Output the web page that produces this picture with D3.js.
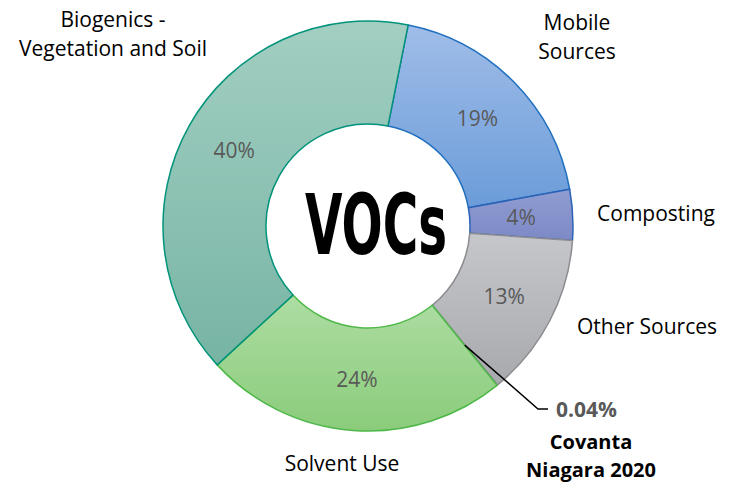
<!DOCTYPE html>
<html>
<head>
<meta charset="utf-8">
<script src="https://cdn.jsdelivr.net/npm/d3@7"></script>
<style>
  body { margin: 0; background: #fff; }
  svg { display: block; font-family: 'Open Sans', Lato, sans-serif; }
</style>
</head>
<body>
<svg id="chart" width="738" height="489"></svg>
<script>
// slice order clockwise, starting at the Biogenics / Mobile border
const categories = ['Mobile Sources', 'Composting', 'Other Sources', 'Covanta Niagara 2020', 'Solvent Use', 'Biogenics - Vegetation and Soil'];
const values = [19, 4, 13, 0.04, 24, 40];
const value_labels = ['19%', '4%', '13%', '0.04%', '24%', '40%'];

const fill_top = ['#a0bde8', '#909dd2', '#c6c7cb', '#b8b8bc', '#addda3', '#a2cfc2'];
const fill_bottom = ['#6b9cd9', '#7c89c6', '#a8a9ad', '#a8a9ad', '#8bcc7b', '#77b4a4'];
const strokes = ['#1f6fbf', '#2a62b5', '#8c8c90', '#8c8c90', '#4db848', '#00937a'];

const svg = d3.select('#chart');
const cx = 368, cy = 226;
const outer_r = 205, inner_r = 102;

const defs = svg.append('defs');
fill_top.forEach((c, i) => {
  const g = defs.append('linearGradient')
    .attr('id', 'grad_' + i)
    .attr('x1', 0).attr('y1', 0).attr('x2', 0).attr('y2', 1);
  g.append('stop').attr('offset', '0%').attr('stop-color', c);
  g.append('stop').attr('offset', '100%').attr('stop-color', fill_bottom[i]);
});

const start = 11.3 * Math.PI / 180;
const pie = d3.pie().sort(null).startAngle(start).endAngle(start + 2 * Math.PI);
const arcs = pie(values);
const arc = d3.arc().innerRadius(inner_r).outerRadius(outer_r);

const g = svg.append('g').attr('transform', `translate(${cx},${cy})`);

g.selectAll('.slice')
  .data(arcs)
  .enter()
  .append('path')
  .attr('class', 'slice')
  .attr('d', arc)
  .attr('fill', (d, i) => `url(#grad_${i})`)
  .attr('stroke', (d, i) => strokes[i])
  .attr('stroke-width', 1.5)
  .attr('stroke-linejoin', 'round');

// percentage labels inside the slices (all except the tiny Covanta slice)
g.selectAll('.pct')
  .data(arcs.filter((d, i) => i !== 3))
  .enter()
  .append('text')
  .attr('class', 'pct')
  .attr('x', (d) => arc.centroid(d)[0])
  .attr('y', (d) => arc.centroid(d)[1])
  .attr('dy', '0.36em')
  .attr('text-anchor', 'middle')
  .attr('font-size', 21)
  .attr('fill', '#595959')
  .text((d) => value_labels[d.index]);

// centre title
svg.append('text')
  .attr('x', 376)
  .attr('y', 254)
  .attr('text-anchor', 'middle')
  .attr('font-family', "'DejaVu Sans Condensed', 'DejaVu Sans', sans-serif")
  .attr('font-weight', 'bold')
  .attr('font-size', 84)
  .attr('textLength', 142)
  .attr('lengthAdjust', 'spacingAndGlyphs')
  .attr('fill', '#000')
  .text('VOCs');

// category labels
const cat_labels = [
  { lines: ['Mobile', 'Sources'], x: 577, y: 30 },
  { lines: ['Composting'], x: 656, y: 221 },
  { lines: ['Other Sources'], x: 647, y: 334 },
  { lines: ['Solvent Use'], x: 342, y: 471 },
  { lines: ['Biogenics -', 'Vegetation and Soil'], x: 113, y: 27 }
];

cat_labels.forEach((l) => {
  const t = svg.append('text')
    .attr('x', l.x)
    .attr('y', l.y)
    .attr('text-anchor', 'middle')
    .attr('font-size', 21)
    .attr('fill', '#000');
  l.lines.forEach((s, k) => {
    t.append('tspan').attr('x', l.x).attr('dy', k === 0 ? 0 : 29).text(s);
  });
});

// Covanta leader line and label
const cov = arcs[3];
const mid = (cov.startAngle + cov.endAngle) / 2;
const r0 = (inner_r + outer_r) / 2;
const p0 = [cx + r0 * Math.sin(mid), cy - r0 * Math.cos(mid)];
svg.append('polyline')
  .attr('points', [p0, [538, 409], [548, 409]].map((p) => p.join(',')).join(' '))
  .attr('fill', 'none')
  .attr('stroke', '#000')
  .attr('stroke-width', 1.5);

svg.append('text')
  .attr('x', 556)
  .attr('y', 417)
  .attr('font-size', 21)
  .attr('font-weight', 'bold')
  .attr('fill', '#595959')
  .text(value_labels[3]);

const cov_t = svg.append('text')
  .attr('x', 591)
  .attr('y', 449)
  .attr('text-anchor', 'middle')
  .attr('font-size', 20)
  .attr('font-weight', 'bold')
  .attr('fill', '#000');
['Covanta', 'Niagara 2020'].forEach((s, k) => {
  cov_t.append('tspan').attr('x', 591).attr('dy', k === 0 ? 0 : 28).text(s);
});
</script>
</body>
</html>
